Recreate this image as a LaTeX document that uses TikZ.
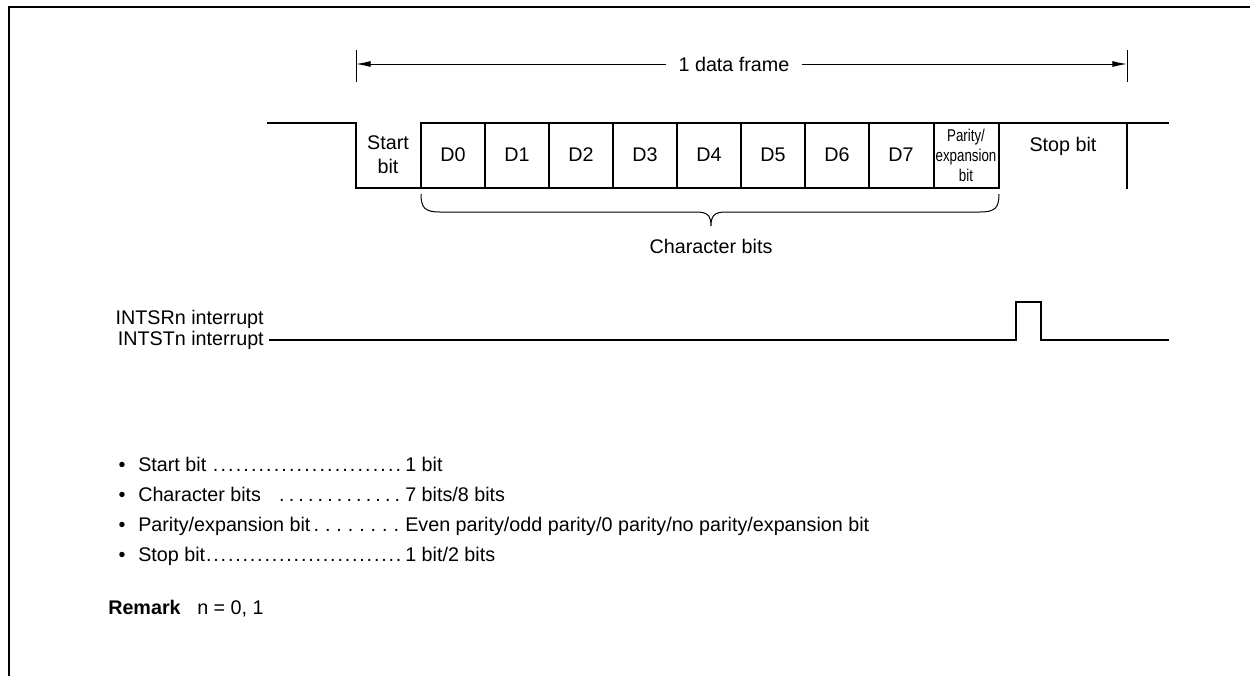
\documentclass[tikz,border=0pt]{standalone}
\usepackage{fontspec}
\setmainfont{Liberation Sans}
\usetikzlibrary{arrows.meta}
\newcommand{\leadrow}[2]{\makebox[198pt][l]{#1\xleaders\hbox to #2{\hss.\hss}\hfill}}
\begin{document}
\begin{tikzpicture}[x=0.75pt,y=-0.75pt,
  txt/.style={font=\fontsize{14.8}{17}\selectfont, inner sep=0pt},
  small/.style={font=\fontsize{12.8}{14}\selectfont, inner sep=0pt, align=center, xscale=0.78, transform shape},
  wave/.style={line width=1.5pt, line cap=rect},
  thin/.style={line width=0.75pt},
  dim/.style={line width=0.75pt, -{Latex[length=11pt,width=4.5pt]}},
  framel/.style={line width=1.6pt}]
\useasboundingbox (0,0) rectangle (1250,676);
% frame
\draw[framel] (1250,7) -- (9,7) -- (9,676);

% dimension line
\coordinate (tl1) at (356,50); \coordinate (tl2) at (356,82);
\coordinate (tr1) at (1127,50); \coordinate (tr2) at (1127,82);
\coordinate (al) at (356,64); \coordinate (ar) at (1127,64);
\draw[thin] (tl1) -- (tl2);
\draw[thin] (tr1) -- (tr2);
\node[txt] (frame) at (734,64) {1 data frame};
\draw[dim] ([xshift=-9pt]frame.west) -- (al);
\draw[dim] ([xshift=9pt]frame.east) -- (ar);

% waveform
\draw[wave] (268,123) -- (356,123) -- (356,188) -- (999,188) -- (999,123);
\draw[wave] (421,188) -- (421,123) -- (1168,123);
\foreach \x in {485,549,613,677,741,805,869,934} \draw[wave] (\x,123) -- (\x,188);
\draw[wave] (1127,123) -- (1127,188);

\node[txt, align=center] (start) at (388,155) {Start\\[1pt]bit};
\foreach \i [evaluate=\i as \cx using 453+64*\i] in {0,...,7}
  \node[txt] (d\i) at (\cx,155) {D\i};
\node[small] (par) at (966,155) {Parity/\\[1pt]expansion\\[1pt]bit};
\node[txt] (stop) at (1063,146) {Stop bit};

% brace
\draw[thin] (421,194) .. controls (421,208) and (425,212) .. (440,212) -- (696,212)
  .. controls (707,212) and (711,215) .. (711,226)
  .. controls (711,215) and (715,212) .. (726,212) -- (980,212)
  .. controls (995,212) and (999,208) .. (999,194);
\node[txt] (cb) at (711,246) {Character bits};

% interrupt
\node[txt, anchor=east] (intsr) at (264,319) {INTSRn interrupt};
\node[txt, anchor=east] (intst) at (264,340) {INTSTn interrupt};
\coordinate (ist) at (270,340);
\coordinate (ien) at (1168,340);
\draw[wave] (ist) -- (1016,340) -- (1016,302) -- (1041,302) -- (1041,340) -- (ien);

% list
\foreach \y/\a/\p/\b in {464/{Start bit }/5.5pt/{1 bit},
                      494/{Character bits\hspace{12pt}}/7.1pt/{7 bits/8 bits},
                      524/{Parity/expansion bit}/8.2pt/{Even parity/odd parity/0 parity/no parity/expansion bit},
                      554/{Stop bit}/5.4pt/{1 bit/2 bits}}{
  \node[txt, anchor=base] at (122,\y+7) {\textbullet};
  \node[txt, anchor=base west] at (138,\y+7) {\leadrow{\a}{\p}};
  \node[txt, anchor=base west] at (405,\y+7) {\b};
}
\node[txt, anchor=base west] (rem) at (108,614) {\textbf{Remark}};
\node[txt, anchor=base west] (remn) at (197,614) {n = 0, 1};
\end{tikzpicture}
\end{document}
